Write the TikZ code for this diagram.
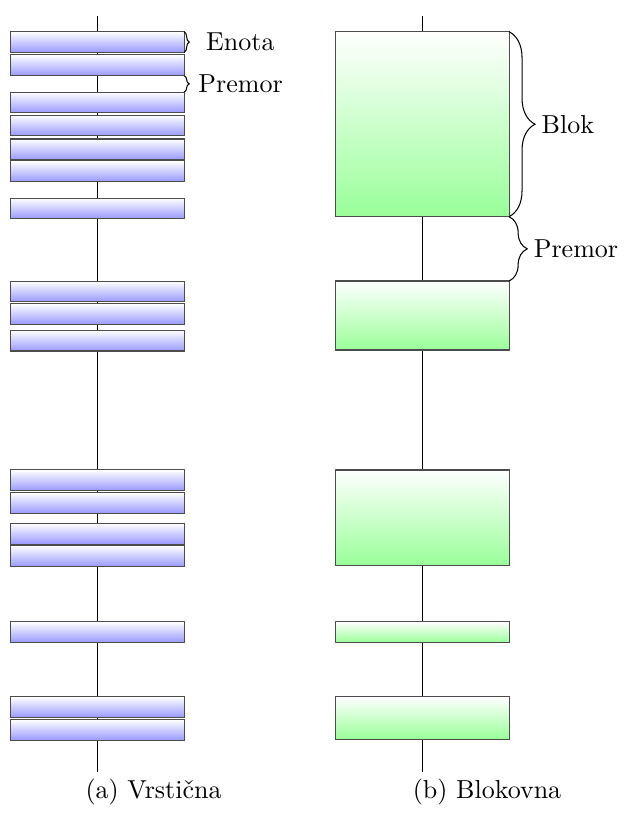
\documentclass[tikz,border=0pt]{standalone}
\usepackage{tikz}
\usetikzlibrary{decorations.pathreplacing}
\tikzset{unit/.style = {draw=black!70, top color=white, bottom color=blue!40, minimum width=2.34cm, minimum height=0.28cm, inner sep=0pt, outer sep=0pt}}
\tikzset{block/.style = {draw=black!70, top color=white, bottom color=green!40, minimum width=2.34cm, inner sep=0pt, outer sep=0pt}}
\tikzset{curly/.style = {decorate, decoration={brace, amplitude=#1}}}

\begin{document}
\begin{tikzpicture}
\useasboundingbox (0,0) rectangle (8.435,-11.017);
% time lines
\coordinate (la) at (1.318,-0.216);
\coordinate (lb) at (1.318,-10.432);
\coordinate (ra) at (5.711,-0.216);
\coordinate (rb) at (5.711,-10.432);
\draw (la) -- (lb);
\draw (ra) -- (rb);
% single rows
\foreach \y [count=\i] in {0.569,0.883,1.384,1.695,2.019,2.316,2.817,3.939,4.245,4.605,6.493,6.800,7.214,7.517,8.544,9.558,9.869}
  \node[unit] (u\i) at (1.318,-\y) {};
% blocks
\node[block, minimum height=2.501cm] (b1) at (5.711,-1.679) {};
\node[block, minimum height=0.933cm] (b2) at (5.711,-4.265) {};
\node[block, minimum height=1.285cm] (b3) at (5.711,-6.996) {};
\node[block, minimum height=0.28cm] (b4) at (5.711,-8.544) {};
\node[block, minimum height=0.572cm] (b5) at (5.711,-9.704) {};
% braces
\draw[curly=2pt] (u1.north east) -- (u1.south east) node[midway, right=5pt] (enota) {Enota};
\draw[curly=2pt] (u2.south east) -- (u3.north east) node[midway, right=2pt] (premora) {Premor};
\draw[curly=10pt] (b1.north east) -- (b1.south east) node[midway, right=9pt] (blok) {Blok};
\draw[curly=7pt] (b1.south east) -- (b2.north east) node[midway, right=6pt] (premorb) {Premor};
% captions
\node[anchor=base] (capa) at (2.075,-10.79) {(a) Vrstična};
\node[anchor=base] (capb) at (6.583,-10.79) {(b) Blokovna};
\end{tikzpicture}
\end{document}
